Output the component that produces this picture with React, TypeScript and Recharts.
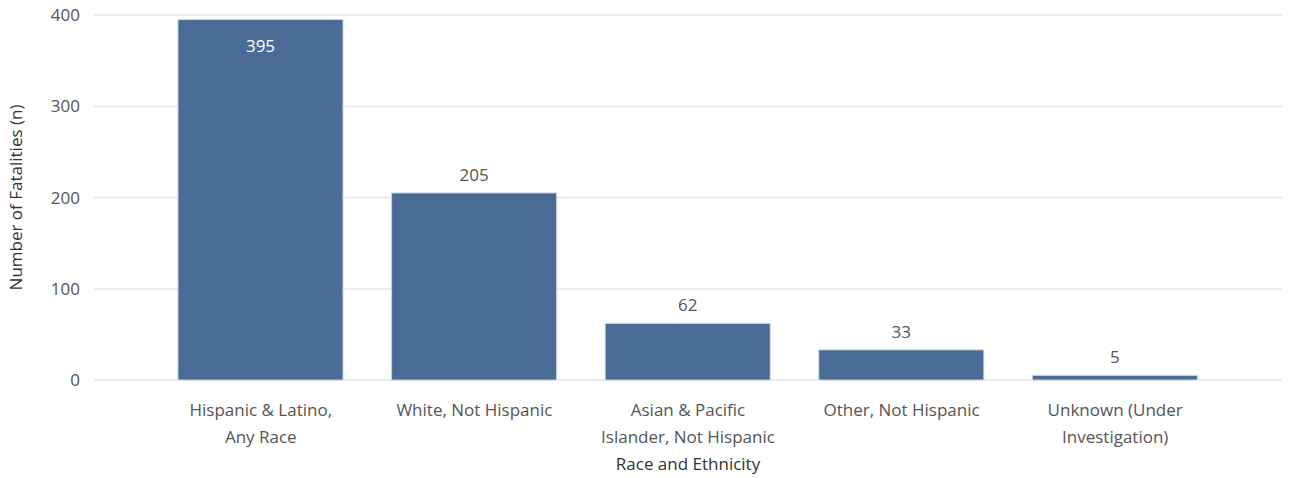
import React from 'react';
import { BarChart, Bar, XAxis, YAxis, CartesianGrid, LabelList } from 'recharts';

const categories = [
  'Hispanic & Latino,\nAny Race',
  'White, Not Hispanic',
  'Asian & Pacific\nIslander, Not Hispanic',
  'Other, Not Hispanic',
  'Unknown (Under\nInvestigation)',
];
const fatalities = [395, 205, 62, 33, 5];
const yTicks = [0, 100, 200, 300, 400];

const data = categories.map((c, i) => ({ category: c, value: fatalities[i] }));

const FONT = '"Open Sans", sans-serif';
const BAR_COLOR = '#4a6b96';

const CategoryTick = (props: any) => {
  const { x, y, payload } = props;
  const lines = String(payload.value).split('\n');
  return (
    <text x={x} y={y} textAnchor="middle" fill="#555" fontSize={17} fontFamily={FONT}>
      {lines.map((l, i) => (
        <tspan key={i} x={x} dy={i === 0 ? 28 : 27}>
          {l}
        </tspan>
      ))}
    </text>
  );
};

const ValueLabel = (props: any) => {
  const { x, y, width, value } = props;
  const inside = value > 300;
  return (
    <text
      x={x + width / 2}
      y={inside ? y + 32 : y - 12}
      textAnchor="middle"
      fill={inside ? '#fff' : '#555'}
      fontSize={17}
      fontFamily={FONT}
    >
      {value}
    </text>
  );
};

const App = () => {
  return (
    <div style={{ position: 'absolute', left: 0, top: 0, background: '#fff' }}>
      <BarChart
        width={1289}
        height={478}
        data={data}
        margin={{ top: 15, right: 7, left: 0, bottom: 4 }}
      >
        <CartesianGrid vertical={false} stroke="#ebebeb" strokeWidth={2} />
        <XAxis
          dataKey="category"
          axisLine={false}
          tickLine={false}
          interval={0}
          height={94}
          padding={{ left: 60, right: 60 }}
          tick={<CategoryTick />}
          label={{
            value: 'Race and Ethnicity',
            position: 'insideBottom',
            offset: 4,
            fill: '#333',
            fontSize: 17,
            fontFamily: FONT,
          }}
        />
        <YAxis
          domain={[0, 400]}
          ticks={yTicks}
          axisLine={false}
          tickLine={false}
          tickSize={0}
          tickMargin={14}
          width={94}
          tick={{ fill: '#555', fontSize: 17, fontFamily: FONT }}
          label={{
            value: 'Number of Fatalities (n)',
            angle: -90,
            position: 'insideLeft',
            offset: 16,
            style: { textAnchor: 'middle' },
            fill: '#333',
            fontSize: 17,
            fontFamily: FONT,
          }}
        />
        <Bar
          dataKey="value"
          fill={BAR_COLOR}
          stroke="#c8d2e0"
          strokeWidth={1}
          barSize={165}
          isAnimationActive={false}
        >
          <LabelList dataKey="value" content={<ValueLabel />} />
        </Bar>
      </BarChart>
    </div>
  );
};

export default App;
